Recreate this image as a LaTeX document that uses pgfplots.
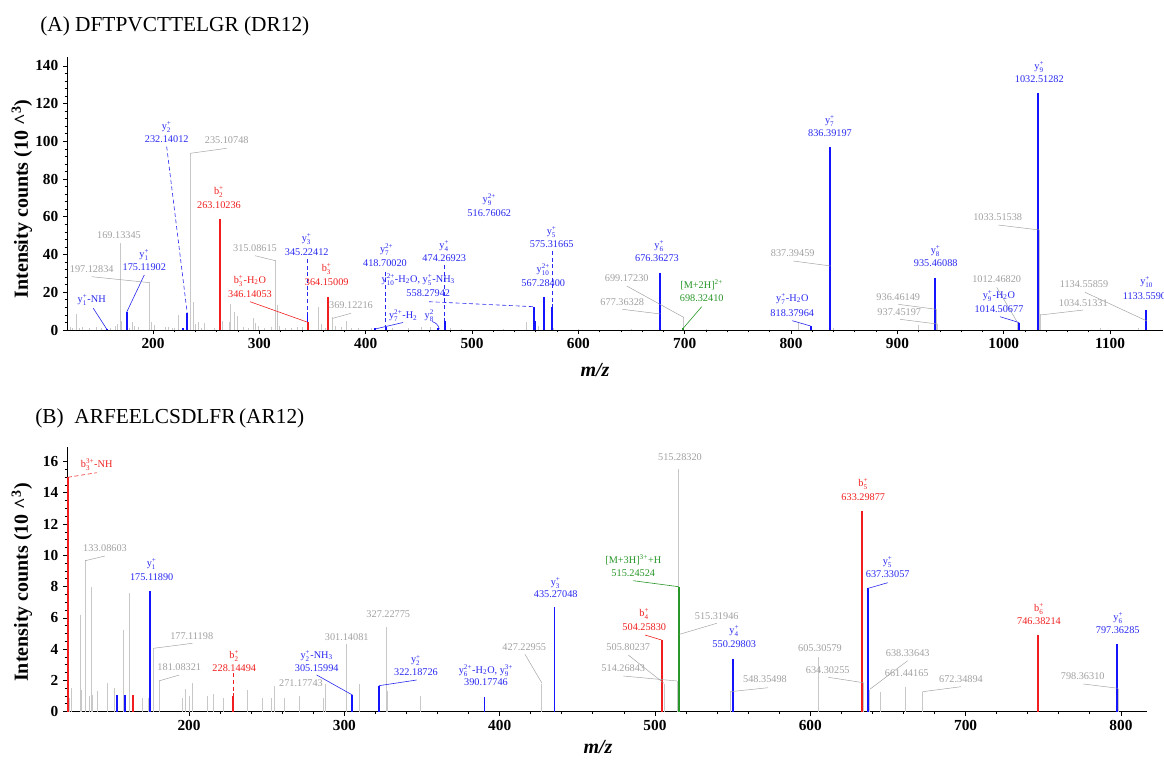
\documentclass[border=0pt]{standalone}
\usepackage{pgfplots}
\pgfplotsset{compat=1.18}
\usepackage{fontspec}
\setmainfont{Liberation Serif}
\definecolor{pblue}{RGB}{20,20,255}
\definecolor{lblue}{RGB}{40,40,240}
\definecolor{pred}{RGB}{240,30,30}
\definecolor{pgray}{RGB}{200,200,200}
\definecolor{lgray}{RGB}{160,160,160}
\definecolor{pgreen}{RGB}{40,150,40}
\newcommand\scr{\fontsize{5.3}{6}\selectfont}
\newcommand\ion[3]{#1$^{\mbox{\scr#3}}_{\mbox{\scr#2}}$}
\newcommand\lf{\fontsize{7.7}{8.5}\selectfont}
\begin{document}
\begin{tikzpicture}[
  lb/.style={text=lblue,font=\lf,inner sep=0pt},
  lr/.style={text=pred,font=\lf,inner sep=0pt},
  lg/.style={text=lgray,font=\lf,inner sep=0pt},
  lgr/.style={text=pgreen,font=\lf,inner sep=0pt},
  gl/.style={draw=lgray,line width=0.35pt},
  bl/.style={draw=lblue,line width=0.45pt},
  rl/.style={draw=pred,line width=0.45pt},
  grl/.style={draw=pgreen,line width=0.45pt}]
\useasboundingbox (0pt,0pt) rectangle (873pt,-570pt);
\pgfplotsset{spec/.style={scale only axis, axis lines=left,
  axis line style={-,line width=0.7pt}, tick align=outside,
  major tick length=3pt, minor tick length=1.8pt,
  tick style={line width=0.6pt,black}, ymin=0,
  /pgf/number format/assume math mode=true,
  /pgf/number format/set thousands separator={},
  ticklabel style={font=\bfseries\fontsize{11.5}{12}\selectfont},
  minor x tick num=4}}
% ---------------- Panel A ----------------
\begin{axis}[spec, at={(50.25pt,-247.5pt)}, anchor=south west,
  width=822pt, height=204.75pt,
  xmin=119.1, xmax=1149.75, ymax=144.75,
  xtick={200,300,...,1100}, ytick={0,20,...,140}, minor y tick num=4]
\addplot[ycomb, color=pgray, line width=0.75pt] coordinates {
(122,1.5)(124,1)(127.6,8.5)(131,1.2)(134,1.5)(140,1)(147,1.5)(152,0.8)(160,1.2)(165,2)
(167,3)(169.13,46)(170.5,5)(178,1)(180.5,4)(183,2)(186,1.5)(197.13,25)(199,4)(201,2.5)
(212,1.5)(215,1.5)(218,1)(220,1)(224.4,8)(235.11,93.8)(237.9,14.7)(240,3)(243.2,4.4)(246,1)
(248.5,3.5)(258,1)(265.5,5)(271.5,4.4)(273.3,13.8)(277,9.7)(279.5,7.4)(285,1.5)(290,1)(294.3,6.2)
(296,3.5)(299,2)(305,1)(311,1.5)(315.09,37)(317.2,13.3)(319,2)(325,1)(330,1)(335.5,1.5)(341,1.5)
(355.4,12)(358,3)(362,1)(369.12,6.7)(372,2)(377,1.5)(382.1,4.8)(387,1)(393,1)(405,1)(425,1)
(440,1)(452,1.5)(460.6,1.5)(480,0.8)(490,0.5)(530,0.5)(551.4,4.4)(562.3,2)(577,1)(600,0.5)
(650,0.5)(677.36,8.5)(699.17,6.7)(720,0.5)(806.7,3.7)(837.39,34)(840,1)(919.8,2.6)(936.46,11)
(937.45,3)(1012.47,4.4)(1033.52,53)(1034.51,8.5)(1090.5,1)(1127,1)(1134.56,4.8)};
\addplot[ycomb, color=pblue, line width=1.4pt] coordinates {
(157,0.6)(175.12,9.4)(227.9,1)(232.14,9)(345.22,8.5)(408.7,1)(418.7,1.5)(468.2,1)(474.27,4.8)
(558.28,12)(559.5,4.8)(567.28,17.3)(575.32,12.4)(676.36,30.4)(818.38,2)(836.39,96.9)
(935.46,27.4)(1014.51,3.9)(1032.51,125.5)(1133.56,10.6)};
\addplot[ycomb, color=pred, line width=1.5pt] coordinates {(263.10,58.9)(346.14,4)(364.15,17.7)};
\addplot[ycomb, color=pgreen, line width=1.4pt] coordinates {(698.32,1)};
\end{axis}
% ---------------- Panel B ----------------
\begin{axis}[spec, at={(50.25pt,-533.775pt)}, anchor=south west,
  width=810pt, height=198.75pt,
  xmin=121.4, xmax=816.8, ymax=16.95,
  xtick={200,300,...,800}, ytick={0,2,...,16}, minor y tick num=3]
\addplot[ycomb, color=pgray, line width=0.75pt] coordinates {
(123,0.85)(124.5,1.5)(129.8,6.2)(130.9,1.4)(133.09,9.7)(135.7,1)(137,7.95)(137.8,1.1)(140.8,1.3)
(147.5,1.85)(152,1.5)(157.8,5.2)(161.4,7.6)(170,0.9)(173.7,0.85)(177.11,4.05)(181.08,2.0)(196,0.9)
(198,1.43)(200,1.0)(202.1,1.85)(212,1.0)(216,1.13)(222,0.9)(237.3,1.4)(247.2,0.87)(253.2,0.85)
(255.1,1.65)(261.4,0.87)(271.18,1.0)(286.3,0.9)(288,1.8)(301.14,4.3)(309.8,1.77)(327.23,5.4)
(327.8,1.3)(349.1,1.0)(427.23,1.8)(505.80,1.8)(514.27,1.95)(515.28,15.5)(548.35,1.24)
(605.31,3.5)(634.30,1.83)(638.34,1.4)(645.3,1.24)(661.44,1.6)(672.35,1.24)(798.36,1.46)};
\addplot[ycomb, color=pblue, line width=1.4pt] coordinates {
(153.7,1.07)(158.9,1.1)(175.12,7.7)(305.16,1.07)(322.19,1.66)(390.18,0.96)(435.27,6.7)
(550.30,3.4)(637.33,7.9)(797.36,4.35)};
\addplot[ycomb, color=pred, line width=1.4pt] coordinates {
(122,15)(163.8,1.05)(228.14,1.0)(504.26,4.6)(633.30,12.86)(746.38,4.9)};
\addplot[ycomb, color=pgreen, line width=1.4pt] coordinates {(515.25,8.0)};
\end{axis}
\begin{scope}[x=0.75pt,y=0.75pt]
\node[anchor=west,inner sep=0pt,font=\fontsize{16}{18}\selectfont] at (40,-26) {(A) DFTPVCTTELGR (DR12)};
\node[rotate=90,inner sep=0pt,font=\bfseries\fontsize{15}{17}\selectfont] at (22,-199) {Intensity counts (10 \textasciicircum\textsuperscript{3})};
\node[inner sep=0pt,font=\bfseries\itshape\fontsize{15}{17}\selectfont] at (595,-370) {m/z};
% labels A
\node[lb] at (91.7,-300) {\ion{y}{1}{+}-NH}; \draw[bl] (93.3,-308.3) -- (107.3,-330);
\node[lb] at (144.3,-255) {\ion{y}{1}{+}}; \node[lb] at (144.3,-267.3) {175.11902}; \draw[bl] (144.3,-275) -- (126.6,-312.3);
\node[lg] at (91.7,-269.3) {197.12834}; \draw[gl] (91.7,-276.7) -- (150,-282.7);
\node[lg] at (119,-235.3) {169.13345};
\node[lb] at (166.7,-126.7) {\ion{y}{2}{+}}; \node[lb] at (166.7,-139.3) {232.14012}; \draw[bl,densely dashed] (166.7,-146.7) -- (187.2,-313);
\node[lg] at (226.7,-140) {235.10748}; \draw[gl] (226.7,-148.3) -- (190.4,-153.3);
\node[lr] at (219,-192.3) {\ion{b}{2}{+}}; \node[lr] at (219,-205) {263.10236};
\node[lg] at (255,-247.7) {315.08615}; \draw[gl] (255,-255.7) -- (275.4,-260.7);
\node[lb] at (306.7,-239) {\ion{y}{3}{+}}; \node[lb] at (306.7,-251.7) {345.22412}; \draw[bl,densely dashed] (307.5,-259) -- (307.5,-314);
\node[lr] at (326.7,-268.7) {\ion{b}{3}{+}}; \node[lr] at (326.7,-282.3) {364.15009};
\node[lr] at (250,-281) {\ion{b}{3}{+}-H\textsubscript{2}O}; \node[lr] at (250,-294.3) {346.14053}; \draw[rl] (250,-301.7) -- (308.4,-322.5);
\node[lg] at (351,-305.3) {369.12216}; \draw[gl] (351,-313.3) -- (332.9,-318.3);
\node[lb] at (386.7,-250) {\ion{y}{7}{2+}}; \node[lb] at (385,-263) {418.70020}; \draw[bl,densely dashed] (385.6,-271.7) -- (385.6,-328);
\node[lb] at (418.3,-280) {\ion{y}{10}{2+}-H\textsubscript{2}O, \ion{y}{5}{+}-NH\textsubscript{3}}; \node[lb] at (428.3,-293.3) {558.27942}; \draw[bl,densely dashed] (429,-301.7) -- (534,-306.7);
\node[lb] at (403.3,-316) {\ion{y}{7}{2+}-H\textsubscript{2}}; \draw[bl] (375,-329) -- (403,-322.5);
\node[lb] at (429.3,-316) {\ion{y}{8}{2}}; \draw[bl] (432,-321.5) to[bend left=30] (439.3,-329);
\node[lb] at (444.3,-246) {\ion{y}{4}{+}}; \node[lb] at (444.3,-258.3) {474.26923}; \draw[bl,densely dashed] (444.7,-265) -- (444.7,-321);
\node[lb] at (489.3,-200) {\ion{y}{9}{2+}}; \node[lb] at (489.3,-212.7) {516.76062};
\node[lb] at (551.7,-231.7) {\ion{y}{5}{+}}; \node[lb] at (551.7,-244.3) {575.31665}; \draw[bl,densely dashed] (552.1,-251) -- (552.1,-306.7);
\node[lb] at (543.3,-270) {\ion{y}{10}{2+}}; \node[lb] at (543.3,-283.3) {567.28400};
\node[lb] at (659.3,-246) {\ion{y}{6}{+}}; \node[lb] at (657,-258.3) {676.36273};
\node[lg] at (626.7,-278.3) {699.17230}; \draw[gl] (626.7,-286) -- (683.8,-317.4);
\node[lg] at (622.3,-301.7) {677.36328}; \draw[gl] (622.3,-309.3) -- (660.6,-314);
\node[lgr] at (701.7,-285) {[M+2H]\textsuperscript{2+}}; \node[lgr] at (701.7,-298.3) {698.32410}; \draw[grl] (701.7,-306.7) -- (683,-328.5);
\node[lb] at (830,-120.7) {\ion{y}{7}{+}}; \node[lb] at (830,-133.3) {836.39197};
\node[lb] at (1039.3,-66.7) {\ion{y}{9}{+}}; \node[lb] at (1039.3,-79.3) {1032.51282};
\node[lg] at (997.7,-217.3) {1033.51538}; \draw[gl] (998.3,-225) -- (1039.4,-230);
\node[lg] at (792.7,-253.3) {837.39459}; \draw[gl] (793.3,-261) -- (830.8,-266);
\node[lb] at (935.7,-251.3) {\ion{y}{8}{+}}; \node[lb] at (935.7,-263.3) {935.46088};
\node[lg] at (996.7,-279.3) {1012.46820}; \draw[gl] (996.7,-287.3) -- (1017,-321.7);
\node[lg] at (1084,-284.3) {1134.55859}; \draw[gl] (1085,-292.3) -- (1146.9,-321);
\node[lb] at (1146.7,-282.3) {\ion{y}{10}{+}}; \node[lb] at (1147,-295.7) {1133.55903};
\node[lb] at (999,-296) {\ion{y}{9}{+}-H\textsubscript{2}O}; \node[lb] at (999,-309.3) {1014.50677}; \draw[bl] (1000,-316.7) -- (1019.2,-322.6);
\node[lg] at (898.3,-296.7) {936.46149}; \draw[gl] (898.3,-304.3) -- (936.2,-309.3);
\node[lg] at (899.3,-311.7) {937.45197}; \draw[gl] (900,-319.3) -- (937.2,-324);
\node[lg] at (1083.3,-302.7) {1034.51331}; \draw[gl] (1083.3,-310) -- (1040.4,-315);
\node[lb] at (792.3,-299) {\ion{y}{7}{+}-H\textsubscript{2}O}; \node[lb] at (792.3,-312.7) {818.37964}; \draw[bl] (792.3,-320.7) -- (810.6,-326);
% panel B texts
\node[anchor=west,inner sep=0pt,font=\fontsize{16}{18}\selectfont] at (35,-418.3) {(B)\ \ ARFEELCSDLFR\,(AR12)};
\node[rotate=90,inner sep=0pt,font=\bfseries\fontsize{15}{17}\selectfont] at (22,-582.5) {Intensity counts (10 \textasciicircum\textsuperscript{3})};
\node[inner sep=0pt,font=\bfseries\itshape\fontsize{15}{17}\selectfont] at (598,-747.5) {m/z};
\node[lr] at (96.7,-465) {\ion{b}{3}{3+}-NH}; \draw[rl,densely dashed] (67.9,-477.3) -- (96.7,-472.7);
\node[lg] at (105,-548.3) {133.08603}; \draw[gl] (105,-556) -- (85.2,-560.7);
\node[lb] at (151.7,-564.3) {\ion{y}{1}{+}}; \node[lb] at (151.7,-577.3) {175.11890};
\node[lg] at (191.7,-635.7) {177.11198}; \draw[gl] (192.3,-643.3) -- (153.5,-648.3);
\node[lg] at (179.3,-667.3) {181.08321}; \draw[gl] (179.3,-675) -- (159.7,-680.7);
\node[lr] at (234.3,-655.7) {\ion{b}{2}{+}}; \node[lr] at (234.3,-668.3) {228.14494}; \draw[rl,densely dashed] (232.8,-673.3) -- (232.8,-696);
\node[lg] at (301,-683.3) {271.17743};
\node[lg] at (346.7,-636.7) {301.14081};
\node[lb] at (316.7,-655.7) {\ion{y}{2}{+}-NH\textsubscript{3}}; \node[lb] at (316.7,-667.7) {305.15994}; \draw[bl] (316.7,-675) -- (352.4,-695);
\node[lg] at (388.3,-614.3) {327.22775};
\node[lb] at (416,-660.5) {\ion{y}{2}{+}}; \node[lb] at (416,-672) {322.18726}; \draw[bl] (416.7,-680) -- (378.8,-685.7);
\node[lg] at (680,-457.3) {515.28320};
\node[lgr] at (633.3,-560) {[M+3H]\textsuperscript{3+}+H}; \node[lgr] at (633.3,-572.7) {515.24524}; \draw[grl] (633.3,-580.7) -- (678.7,-586.7);
\node[lb] at (555.7,-582.7) {\ion{y}{3}{+}}; \node[lb] at (555.7,-594.3) {435.27048};
\node[lr] at (644.3,-614) {\ion{b}{4}{+}}; \node[lr] at (644.3,-626.7) {504.25830}; \draw[rl] (645,-635) -- (661.6,-640);
\node[lg] at (716.7,-615.7) {515.31946}; \draw[gl] (716.7,-623.3) -- (679.5,-634.3);
\node[lb] at (734.3,-631) {\ion{y}{4}{+}}; \node[lb] at (734.3,-644) {550.29803};
\node[lg] at (524.3,-646.7) {427.22955}; \draw[gl] (525,-654.3) -- (542,-683.3);
\node[lg] at (628.3,-646.7) {505.80237}; \draw[gl] (628.3,-655) -- (664,-683.3);
\node[lg] at (623.3,-668.3) {514.26843}; \draw[gl] (623.3,-676) -- (677.1,-681);
\node[lg] at (765,-679.3) {548.35498}; \draw[gl] (768,-687.7) -- (730,-691.7);
\node[lb] at (486,-671) {\ion{y}{6}{2+}-H\textsubscript{2}O, \ion{y}{9}{3+}}; \node[lb] at (486,-682.3) {390.17746};
\node[lr] at (863.3,-484) {\ion{b}{5}{+}}; \node[lr] at (863.3,-497.3) {633.29877};
\node[lb] at (887.7,-562.3) {\ion{y}{5}{+}}; \node[lb] at (887.7,-574.3) {637.33057}; \draw[bl] (887.7,-582.7) -- (868.2,-588.3);
\node[lr] at (1039,-609) {\ion{b}{6}{+}}; \node[lr] at (1039,-621) {746.38214};
\node[lb] at (1118.3,-617.7) {\ion{y}{6}{+}}; \node[lb] at (1117.7,-630) {797.36285};
\node[lg] at (820,-647.7) {605.30579};
\node[lg] at (827.7,-670) {634.30255}; \draw[gl] (828.3,-677.3) -- (863.5,-682.7);
\node[lg] at (907.7,-652.7) {638.33643}; \draw[gl] (907.7,-660.7) -- (869.8,-689.3);
\node[lg] at (906.7,-673.3) {661.44165};
\node[lg] at (961,-679.3) {672.34894}; \draw[gl] (961,-686.7) -- (922.6,-691.7);
\node[lg] at (1082.7,-676) {798.36310}; \draw[gl] (1083.3,-684) -- (1118.3,-688.3);
\end{scope}
\end{tikzpicture}
\end{document}
